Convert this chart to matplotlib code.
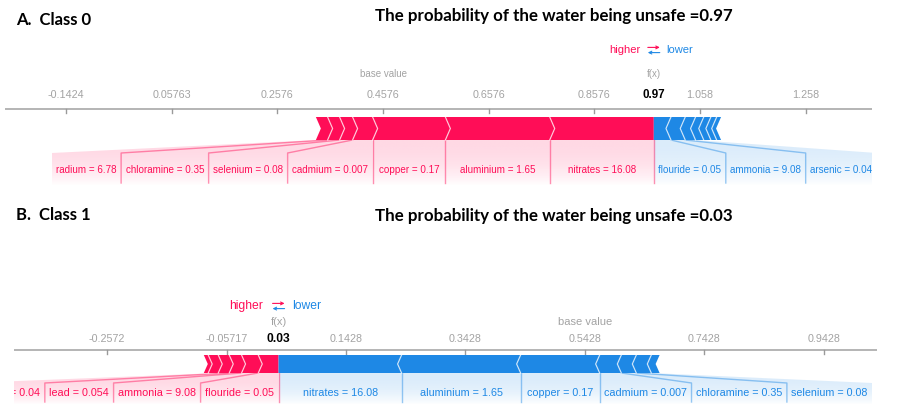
import numpy as np
import matplotlib
matplotlib.use("Agg")
import matplotlib.pyplot as plt
from matplotlib.patches import Polygon
from matplotlib.colors import to_rgb
from matplotlib.transforms import offset_copy
from matplotlib import font_manager

# ---------------- data ----------------
# Class 0 force plot
base_value_0 = 0.45763
fx_value_0 = 0.97
higher_labels_0 = ["nitrates = 16.08", "aluminium = 1.65", "copper = 0.17",
                   "cadmium = 0.007", "selenium = 0.08", "chloramine = 0.35",
                   "radium = 6.78"]
higher_values_0 = [0.197, 0.1975, 0.1377, 0.0379, 0.0246, 0.0227, 0.0222]
lower_labels_0 = ["flouride = 0.05", "ammonia = 9.08", "arsenic = 0.04",
                  "", "", "", ""]
lower_values_0 = [0.0325, 0.027, 0.0195, 0.0155, 0.0135, 0.011, 0.0083]

# Class 1 force plot
base_value_1 = 0.54283
fx_value_1 = 0.03
higher_labels_1 = ["flouride = 0.05", "ammonia = 9.08", "lead = 0.054",
                   "arsenic = 0.04", "", ""]
higher_values_1 = [0.034, 0.028, 0.0206, 0.0184, 0.0168, 0.0074]
lower_labels_1 = ["nitrates = 16.08", "aluminium = 1.65", "copper = 0.17",
                  "cadmium = 0.007", "chloramine = 0.35", "selenium = 0.08", ""]
lower_values_1 = [0.206, 0.1993, 0.1323, 0.0363, 0.0251, 0.0251, 0.0139]

panel_titles = ["A.  Class 0", "B.  Class 1"]
prob_titles = ["The probability of the water being unsafe =0.97",
               "The probability of the water being unsafe =0.03"]
tick_step = 0.2

# ---------------- style ----------------
W, H = 908, 405
RED = "#ff0d57"
BLUE = "#1e88e5"
GREY = "#a3a3a3"

_installed = {f.name for f in font_manager.fontManager.ttflist}
NARROW = "Liberation Sans Narrow" in _installed
FONT = "Liberation Sans Narrow" if NARROW else "Liberation Sans"
FSCALE = 1.0 if NARROW else 0.82
TITLE_FONT = "Lato" if "Lato" in _installed else "DejaVu Sans"

layouts = [
    dict(xlim=(-0.258, 1.383), cols=(5, 872), rows=(30, 195),
         y_legend=50, y_fx=74, y_ticks=95, y_axis=109, bar=(117, 140),
         y_bend=153, y_label=170, y_shade=186, tip_px=5, pad_px=9,
         fs_tick=9.4, fs_label=8.7, fs_fx=10.2, fs_legend=9.8, fs_note=8.6,
         legend_gap=(13, 12), arrow_px=6, arrow_dy=2.6),
    dict(xlim=(-0.413, 1.032), cols=(14, 877), rows=(285, 405),
         y_legend=306, y_fx=322, y_ticks=339, y_axis=350, bar=(355, 373),
         y_bend=383, y_label=393, y_shade=405, tip_px=4, pad_px=9,
         fs_tick=9.5, fs_label=9.5, fs_fx=10.6, fs_legend=10.6, fs_note=9.8,
         legend_gap=(16, 14), arrow_px=6, arrow_dy=2.6),
]

fig = plt.figure(figsize=(W / 100, H / 100), dpi=100)
fig.patch.set_facecolor("white")
renderer = fig.canvas.get_renderer()


def draw_force(ax, base, fx, hi_vals, hi_labs, lo_vals, lo_labs, L):
    x0, x1 = L["xlim"]
    r0, r1 = L["rows"]
    ax.set_xlim(x0, x1)
    ax.set_ylim(r1, r0)
    ax.set_axis_off()
    ppu = ax.get_window_extent().width / (x1 - x0)   # pixels per unit
    tip = L["tip_px"] / ppu
    pad = L["pad_px"] / ppu
    top, bot = L["bar"]
    mid = (top + bot) / 2
    bend, shade = L["y_bend"], L["y_shade"]

    # axis line, ticks and tick labels
    ax.plot([x0, x1], [L["y_axis"]] * 2, color="#a8a8a8", lw=1.2,
            solid_capstyle="butt", zorder=2, clip_on=False)
    k0 = int(np.ceil((x0 - base) / tick_step))
    k1 = int(np.floor((x1 - base) / tick_step))
    for k in range(k0, k1 + 1):
        t = base + k * tick_step
        ax.plot([t, t], [L["y_axis"], L["y_axis"] + 4], color="#9a9a9a",
                lw=1, zorder=2)
        ax.text(t, L["y_ticks"], f"{t:.4g}", ha="center", va="center",
                color=GREY, fontsize=L["fs_tick"] * FSCALE, family=FONT)

    # f(x) and base value annotations
    ax.text(fx, L["y_ticks"], f"{fx:.2f}", ha="center", va="center",
            color="black", fontweight="bold", fontsize=L["fs_fx"] * FSCALE,
            family=FONT)
    ax.text(fx, L["y_fx"], "f(x)", ha="center", va="center", color=GREY,
            fontsize=L["fs_note"] * FSCALE, family=FONT)
    ax.text(base, L["y_fx"], "base value", ha="center", va="center",
            color=GREY, fontsize=L["fs_note"] * FSCALE, family=FONT)

    # higher / lower legend
    gl, gr = L["legend_gap"]
    ax.text(fx, L["y_legend"], "higher", ha="right", va="center", color=RED,
            fontsize=L["fs_legend"] * FSCALE, family=FONT,
            transform=offset_copy(ax.transData, fig=fig, x=-gl, units="dots"))
    ax.text(fx, L["y_legend"], "lower", ha="left", va="center", color=BLUE,
            fontsize=L["fs_legend"] * FSCALE, family=FONT,
            transform=offset_copy(ax.transData, fig=fig, x=gr, units="dots"))
    half = L["arrow_px"] / ppu
    dy = L["arrow_dy"]
    ax.annotate("", xy=(fx + half, L["y_legend"] - dy),
                xytext=(fx - half, L["y_legend"] - dy),
                arrowprops=dict(arrowstyle="->", color=RED, lw=0.8,
                                mutation_scale=5, shrinkA=0, shrinkB=0))
    ax.annotate("", xy=(fx - half, L["y_legend"] + dy),
                xytext=(fx + half, L["y_legend"] + dy),
                arrowprops=dict(arrowstyle="->", color=BLUE, lw=0.8,
                                mutation_scale=5, shrinkA=0, shrinkB=0))

    # stacked force bars
    hi_edges = fx - np.concatenate([[0], np.cumsum(hi_vals)])
    lo_edges = fx + np.concatenate([[0], np.cumsum(lo_vals)])
    for i in range(len(hi_vals)):
        right, left = hi_edges[i], hi_edges[i + 1]
        tr = 0 if i == 0 else tip
        pts = [(left, top), (right, top), (right + tr, mid), (right, bot),
               (left, bot), (left + tip, mid)]
        ax.add_patch(Polygon(pts, closed=True, fc=RED, ec="none", zorder=3))
    for i in range(len(lo_vals)):
        left, right = lo_edges[i], lo_edges[i + 1]
        tl = 0 if i == 0 else tip
        pts = [(left, top), (right, top), (right - tip, mid), (right, bot),
               (left, bot), (left - tl, mid)]
        ax.add_patch(Polygon(pts, closed=True, fc=BLUE, ec="none", zorder=3))
    for b in hi_edges[1:-1]:
        ax.plot([b, b + tip, b], [top, mid, bot], color="white", lw=0.9,
                alpha=0.7, zorder=4)
    for b in lo_edges[1:-1]:
        ax.plot([b, b - tip, b], [top, mid, bot], color="white", lw=0.9,
                alpha=0.7, zorder=4)

    # feature labels with connectors and fading backgrounds;
    # labels running past the ends of the axis are clipped there
    def labels(edges, labs, direction, color):
        cur = fx
        boxes = []
        for i, lab in enumerate(labs):
            if not lab:
                continue
            t = ax.text(0, L["y_label"], lab, color=color, ha="center",
                        va="center", fontsize=L["fs_label"] * FSCALE,
                        family=FONT, zorder=6, clip_on=True)
            w = t.get_window_extent(renderer).width / ppu + pad
            seg_in, seg_out = edges[i], edges[i + 1]
            box_out = cur + direction * max(abs(seg_out - seg_in), w)
            t.set_x((cur + box_out) / 2)
            boxes.append((seg_in, seg_out, cur, box_out))
            cur = box_out

        rgb = to_rgb(color)
        grad = np.zeros((80, 1, 4))
        grad[..., :3] = rgb
        s = np.linspace(0, 1, 80)
        grad[:, 0, 3] = 0.16 * (1 - s ** 2.2)
        for seg_in, seg_out, b_in, b_out in boxes:
            pts = [(seg_in, bot), (seg_out, bot), (b_out, bend),
                   (b_out, shade), (b_in, shade), (b_in, bend)]
            poly = Polygon(pts, closed=True, fc="none", ec="none")
            ax.add_patch(poly)
            xs = [p[0] for p in pts]
            im = ax.imshow(grad, extent=(min(xs), max(xs), shade, bot),
                           aspect="auto", origin="upper",
                           interpolation="bilinear", zorder=1)
            im.set_clip_path(poly)
        for seg_in, seg_out, b_in, b_out in boxes[:-1]:
            ax.plot([seg_out, b_out, b_out], [bot, bend, shade - 3],
                    color=color, alpha=0.45, lw=1, zorder=2)

    labels(hi_edges, hi_labs, -1, RED)
    labels(lo_edges, lo_labs, +1, BLUE)
    ax.plot([fx, fx], [bot, L["y_shade"] - 3], color=RED, alpha=0.45, lw=1,
            zorder=2)

    ax.set_xlim(x0, x1)
    ax.set_ylim(r1, r0)


data = [
    (base_value_0, fx_value_0, higher_values_0, higher_labels_0,
     lower_values_0, lower_labels_0),
    (base_value_1, fx_value_1, higher_values_1, higher_labels_1,
     lower_values_1, lower_labels_1),
]

for L, d in zip(layouts, data):
    c0, c1 = L["cols"]
    r0, r1 = L["rows"]
    ax = fig.add_axes([c0 / W, 1 - r1 / H, (c1 - c0) / W, (r1 - r0) / H])
    ax.patch.set_visible(False)
    draw_force(ax, *d, L)

# panel headings
title_y = [(25, 21), (220, 221)]
for (ya, yb), pt, prob in zip(title_y, panel_titles, prob_titles):
    fig.text(16 / W, 1 - ya / H, pt, ha="left", va="baseline",
             fontsize=12, fontweight="bold", family=TITLE_FONT)
    fig.text(375 / W, 1 - yb / H, prob, ha="left", va="baseline",
             fontsize=12.2, fontweight="bold", family=TITLE_FONT)

fig.savefig("out.png", dpi=100, facecolor="white")
